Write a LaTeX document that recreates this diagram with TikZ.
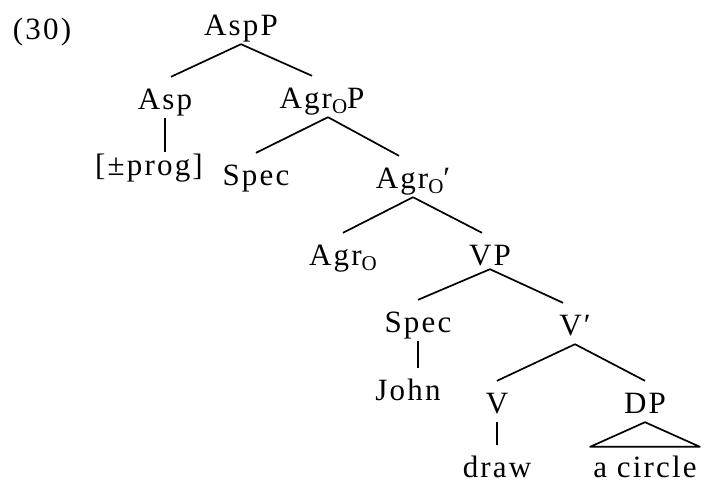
\documentclass[tikz,border=0pt]{standalone}
\usepackage{fontspec}
\setmainfont{Liberation Serif}[LetterSpace=7]
\usetikzlibrary{positioning}
\newcommand{\subO}{\raisebox{-5pt}{\fontsize{21}{21}\selectfont O}}

\begin{document}
\begin{tikzpicture}[x=1pt, y=-1pt, every node/.style={font=\fontsize{31}{37}\selectfont, inner xsep=1pt, inner ysep=9pt, text height=23pt, text depth=0pt, anchor=base}, edge/.style={line width=1.7pt}, leaf/.style={inner ysep=4pt, text height=28pt}]
  \useasboundingbox (0,0) rectangle (704,483);
  % Nodes
  \node (ex) at (42,39) {(30)};
  \node (aspp) at (241,35) {AspP};
  \node (asp) at (165,109) {Asp};
  \node (agrop) at (322,108) {Agr\subO P};
  \node [inner ysep=0pt] (prog) at (149,175) {[±prog]};
  \node (spec1) at (256,185) {Spec};
  \node (agrobar) at (413,188) {Agr\subO′};
  \node (agro) at (343,265) {Agr\subO};
  \node (vp) at (490,265) {VP};
  \node (spec2) at (418,332) {Spec};
  \node (vbar) at (575,335) {V′};
  \node (john) at (408,400) {John};
  \node (v) at (497,413) {V};
  \node (dp) at (645,413) {DP};
  \node [leaf] (draw) at (497,477) {draw};
  \node [leaf] (circ) at (645,477) {a circle};

  % Paths
  \draw [edge] (aspp.south) -- ([xshift=6pt]asp.north);
  \draw [edge] (aspp.south) -- ([xshift=-10pt]agrop.north);
  \draw [edge] (asp.south) -- (asp.south |- prog.north);
  \draw [edge] ([xshift=6pt]agrop.south) -- (spec1.north);
  \draw [edge] ([xshift=6pt]agrop.south) -- ([xshift=-14pt]agrobar.north);
  \draw [edge] (agrobar.south) -- (agro.north);
  \draw [edge] (agrobar.south) -- ([xshift=-8pt]vp.north);
  \draw [edge] ([yshift=5pt]vp.south) -- (spec2.north);
  \draw [edge] ([yshift=5pt]vp.south) -- ([xshift=-12pt]vbar.north);
  \draw [edge] (spec2.south) -- (spec2.south |- john.north);
  \draw [edge] (vbar.south) -- (v.north);
  \draw [edge] (vbar.south) -- (dp.north);
  \draw [edge] (v.south) -- (draw.north);
  \draw [edge, line join=round] (dp.south) -- ([xshift=-2pt, yshift=-2pt]circ.north west) -- ([xshift=2pt, yshift=-2pt]circ.north east) -- cycle;
\end{tikzpicture}
\end{document}
